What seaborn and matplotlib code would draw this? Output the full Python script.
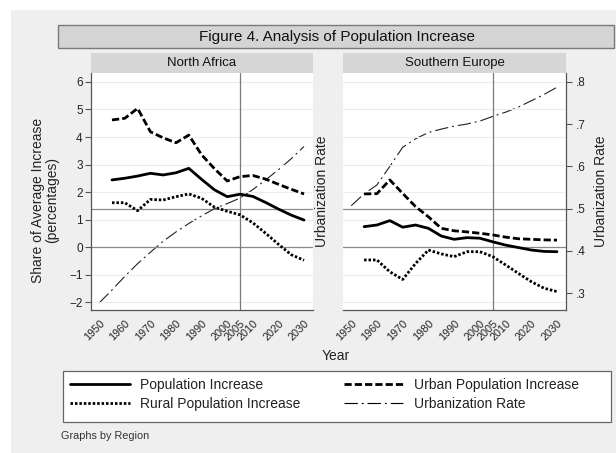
import matplotlib
matplotlib.use("Agg")
import matplotlib.pyplot as plt
from matplotlib.patches import Rectangle
from matplotlib.lines import Line2D
from matplotlib.ticker import FuncFormatter
import pandas as pd
import seaborn as sns

# ---- data -------------------------------------------------------------
regions = ["North Africa", "Southern Europe"]
years = [1955, 1960, 1965, 1970, 1975, 1980, 1985, 1990,
         1995, 2000, 2005, 2010, 2015, 2020, 2025, 2030]
urban_years = [1950] + years

na_pop = [2.44, 2.50, 2.58, 2.68, 2.62, 2.70, 2.86, 2.46,
          2.08, 1.83, 1.92, 1.84, 1.62, 1.38, 1.16, 0.98]
na_urban_pop = [4.62, 4.68, 5.04, 4.19, 3.97, 3.79, 4.07, 3.35,
                2.85, 2.40, 2.56, 2.60, 2.47, 2.28, 2.10, 1.93]
na_rural_pop = [1.61, 1.61, 1.32, 1.73, 1.71, 1.83, 1.93, 1.77,
                1.45, 1.30, 1.17, 0.88, 0.50, 0.10, -0.28, -0.48]
na_urbanization = [0.277, 0.308, 0.340, 0.370, 0.397, 0.423, 0.445, 0.465, 0.483,
                   0.500, 0.512, 0.525, 0.545, 0.568, 0.592, 0.618, 0.647]

se_pop = [0.74, 0.80, 0.96, 0.72, 0.80, 0.68, 0.40, 0.28,
          0.34, 0.32, 0.19, 0.07, -0.02, -0.11, -0.16, -0.17]
se_urban_pop = [1.93, 1.94, 2.44, 1.95, 1.47, 1.10, 0.68, 0.59,
                0.55, 0.50, 0.44, 0.36, 0.30, 0.28, 0.26, 0.25]
se_rural_pop = [-0.47, -0.47, -0.90, -1.18, -0.60, -0.11, -0.25, -0.35,
                -0.17, -0.17, -0.35, -0.65, -0.96, -1.26, -1.50, -1.62]
se_urbanization = [0.507, 0.535, 0.556, 0.600, 0.645, 0.665, 0.680, 0.688, 0.695,
                   0.700, 0.707, 0.718, 0.728, 0.740, 0.755, 0.770, 0.787]

pct_ticks = [-2, -1, 0, 1, 2, 3, 4, 5, 6]
rate_ticks = [0.3, 0.4, 0.5, 0.6, 0.7, 0.8]
year_ticks = [1950, 1960, 1970, 1980, 1990, 2000, 2005, 2010, 2020, 2030]

series_labels = ["Population Increase", "Urban Population Increase",
                 "Rural Population Increase", "Urbanization Rate"]

# long-format tables
pct_rows = []
for region, vals in zip(regions, [(na_pop, na_urban_pop, na_rural_pop),
                                  (se_pop, se_urban_pop, se_rural_pop)]):
    for name, series in zip(series_labels[:3], vals):
        for yr, v in zip(years, series):
            pct_rows.append({"Region": region, "Year": yr, "Series": name, "Value": v})
pct_df = pd.DataFrame(pct_rows)

rate_rows = []
for region, series in zip(regions, [na_urbanization, se_urbanization]):
    for yr, v in zip(urban_years, series):
        rate_rows.append({"Region": region, "Year": yr, "Value": v})
rate_df = pd.DataFrame(rate_rows)

# ---- styling ------------------------------------------------------------
sns.set_theme(style="white")
plt.rcParams["font.family"] = ["Liberation Sans", "DejaVu Sans"]

line_styles = {
    "Population Increase": dict(lw=2.0, linestyle="-"),
    "Urban Population Increase": dict(lw=2.0, linestyle=(0, (2.6, 1.1))),
    "Rural Population Increase": dict(lw=2.0, linestyle=(0, (0.9, 0.7))),
    "Urbanization Rate": dict(lw=0.8, linestyle=(0, (12, 3.5, 1.8, 3.5))),
}

W, H = 616, 453
def fx(px):
    return px / W
def fy(py):
    return 1 - py / H

fig = plt.figure(figsize=(W / 100, H / 100), dpi=100)
fig.patch.set_facecolor("white")
fig.add_artist(Rectangle((fx(11), 0), 1 - fx(11), fy(10), transform=fig.transFigure,
                         facecolor="#efefef", edgecolor="none", zorder=-10))

# title box
fig.add_artist(Rectangle((fx(58), fy(48)), fx(614) - fx(58), fy(25) - fy(48),
                         transform=fig.transFigure, facecolor="#d4d4d4",
                         edgecolor="#7a7a7a", lw=1.0, zorder=0))
fig.text(fx(337), fy(36.5), "Figure 4. Analysis of Population Increase",
         ha="center", va="center", fontsize=11, color="#111")

ink = "#555555"
panels = [(91, 313), (343, 566)]
ax_top, ax_bot = 73, 310
ylim_pct = (-2.29, 6.327)
ylim_rate = (0.2605, 0.8206)
xlim = (1946.8, 2033.5)

for i, (region, (x0, x1)) in enumerate(zip(regions, panels)):
    ax = fig.add_axes([fx(x0), fy(ax_bot), fx(x1) - fx(x0), fy(ax_top) - fy(ax_bot)])
    ax2 = ax.twinx()
    ax.set_zorder(ax2.get_zorder() + 1)
    ax.patch.set_visible(False)
    ax2.patch.set_visible(True)
    ax2.patch.set_facecolor("white")

    # strip header
    fig.add_artist(Rectangle((fx(x0), fy(73)), fx(x1) - fx(x0), fy(53) - fy(73),
                             transform=fig.transFigure, facecolor="#d6d6d6",
                             edgecolor="none", zorder=0))
    fig.text(fx((x0 + x1) / 2), fy(63), region, ha="center", va="center",
             fontsize=9.5, color="#111")

    # reference lines
    ax.grid(axis="y", color="#ececec", lw=0.8)
    ax.axhline(0, color="#8a8a8a", lw=0.9, zorder=1)
    ax.axvline(2005, color="#7a7a7a", lw=0.9, zorder=1)
    ax2.axhline(0.5, color="#8a8a8a", lw=0.9, zorder=1)

    sub = pct_df[pct_df["Region"] == region]
    for name in series_labels[:3]:
        s = sub[sub["Series"] == name]
        sns.lineplot(data=s, x="Year", y="Value", ax=ax, color="black",
                     errorbar=None, legend=False, zorder=3, **line_styles[name])
    r = rate_df[rate_df["Region"] == region]
    sns.lineplot(data=r, x="Year", y="Value", ax=ax2, color="#222222",
                 errorbar=None, legend=False, zorder=3,
                 **line_styles["Urbanization Rate"])

    ax.set_xlim(*xlim)
    ax.set_ylim(*ylim_pct)
    ax2.set_ylim(*ylim_rate)
    ax.set_xlabel("")
    ax.set_ylabel("")
    ax2.set_ylabel("")

    ax.set_xticks(year_ticks)
    ax.set_xticklabels([str(y) for y in year_ticks], rotation=45, ha="right",
                       rotation_mode="anchor", fontsize=7.8, color="#222")
    ax.tick_params(axis="x", direction="out", length=4, width=0.8, color=ink, pad=2)
    ax.set_yticks(pct_ticks)

    for sp in ["top", "right", "left", "bottom"]:
        ax.spines[sp].set_visible(False)
        ax2.spines[sp].set_visible(False)
    ax.spines["bottom"].set_visible(True)
    ax.spines["bottom"].set_color(ink)
    ax.spines["bottom"].set_linewidth(0.9)

    if i == 0:
        ax.spines["left"].set_visible(True)
        ax.spines["left"].set_color(ink)
        ax.spines["left"].set_linewidth(0.9)
        ax.tick_params(axis="y", direction="out", length=4, width=0.8, color=ink,
                       labelsize=8.5, labelcolor="#222", pad=2)
        ax2.set_yticks([])
        fig.text(fx(322), fy(191), "Urbanization Rate", rotation=90,
                 ha="center", va="center", fontsize=10, color="#222")
    else:
        ax.tick_params(axis="y", length=0, labelleft=False)
        ax2.spines["right"].set_visible(True)
        ax2.spines["right"].set_color(ink)
        ax2.spines["right"].set_linewidth(0.9)
        ax2.set_yticks(rate_ticks)
        ax2.yaxis.set_major_formatter(FuncFormatter(lambda v, p: f"{v:.1f}".lstrip("0")))
        ax2.tick_params(axis="y", direction="out", length=4, width=0.8, color=ink,
                        labelsize=8.5, labelcolor="#222", pad=3)
        fig.text(fx(601), fy(191), "Urbanization Rate", rotation=90,
                 ha="center", va="center", fontsize=10, color="#222")

# axis titles
fig.text(fx(45), fy(200), "Share of Average Increase\n(percentages)", rotation=90,
         ha="center", va="center", fontsize=10, color="#222", linespacing=1.0)
fig.text(fx(336), fy(356), "Year", ha="center", va="center", fontsize=10, color="#222")

# legend
fig.add_artist(Rectangle((fx(63), fy(422)), fx(611) - fx(63), fy(371) - fy(422),
                         transform=fig.transFigure, facecolor="white",
                         edgecolor="#666666", lw=0.9, zorder=0))
handles = [Line2D([], [], color="black", **line_styles[n]) for n in
           ["Population Increase", "Rural Population Increase",
            "Urban Population Increase", "Urbanization Rate"]]
labels = ["Population Increase", "Rural Population Increase",
          "Urban Population Increase", "Urbanization Rate"]
fig.legend(handles, labels, ncol=2, loc="upper left",
           bbox_to_anchor=(fx(70), fy(378)), frameon=False, borderpad=0,
           borderaxespad=0, handlelength=4.3, handletextpad=0.75,
           columnspacing=3.1, labelspacing=0.35, fontsize=10,
           labelcolor="#222")

fig.text(fx(61), fy(436), "Graphs by Region", ha="left", va="center",
         fontsize=7.8, color="#333")

fig.savefig("out.png", dpi=100, facecolor=fig.get_facecolor())
